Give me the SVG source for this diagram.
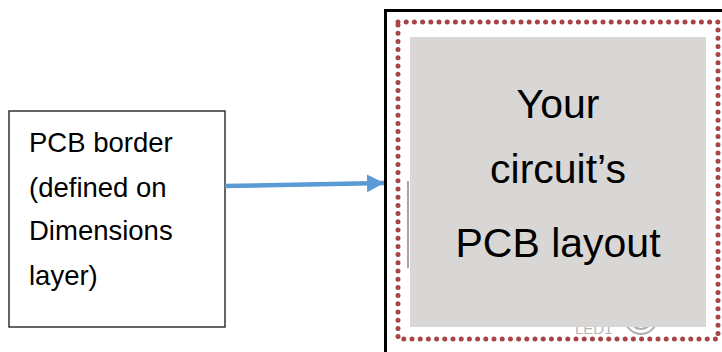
<svg xmlns="http://www.w3.org/2000/svg" width="722" height="352" viewBox="0 0 722 352">
<defs>
<style>
.lbl{font-family:"Liberation Sans",Arial,sans-serif;fill:#000}
.big{font-size:41px;text-anchor:middle}
.small{font-size:27.5px}
</style>
<marker id="ah" markerWidth="17" markerHeight="18" refX="17" refY="9" orient="auto" markerUnits="userSpaceOnUse">
<path d="M0,0 L17,9 L0,18 Z" fill="#5b9bd5"/>
</marker>
</defs>
<rect width="722" height="352" fill="#fff"/>
<g id="pcb-border-note">
<rect x="9" y="111" width="216" height="216" fill="#fff" stroke="#333" stroke-width="1.5"/>
<text class="lbl small" x="29" y="152">PCB border</text>
<text class="lbl small" x="29" y="197">(defined on</text>
<text class="lbl small" x="29" y="240">Dimensions</text>
<text class="lbl small" x="29" y="285">layer)</text>
</g>
<g id="pcb-board">
<rect x="385.5" y="10.5" width="400" height="400" fill="#fff" stroke="#000" stroke-width="3"/>
<rect x="398" y="22" width="320" height="317" fill="none" stroke="#a94446" stroke-width="5" stroke-linecap="round" stroke-dasharray="0 8.2"/>
<line x1="408" y1="181" x2="408" y2="268" stroke="#a6a6a6" stroke-width="2"/>
<text x="575" y="334" font-family="Liberation Sans,Arial,sans-serif" font-size="15" fill="#b5b5b5">LED1</text>
<circle cx="641" cy="318" r="16" fill="none" stroke="#b0b0b0" stroke-width="2"/>
<circle cx="641" cy="318" r="11" fill="none" stroke="#b0b0b0" stroke-width="2"/>
<rect x="410" y="37" width="296" height="290" fill="#d8d7d6"/>
<text class="lbl big" x="558" y="118">Your</text>
<text class="lbl big" x="558" y="183">circuit’s</text>
<text class="lbl big" x="558" y="257">PCB layout</text>
</g>
<g id="connectors">
<line x1="225" y1="186" x2="384" y2="183" stroke="#5b9bd5" stroke-width="4.5" marker-end="url(#ah)"/>
</g>
</svg>
